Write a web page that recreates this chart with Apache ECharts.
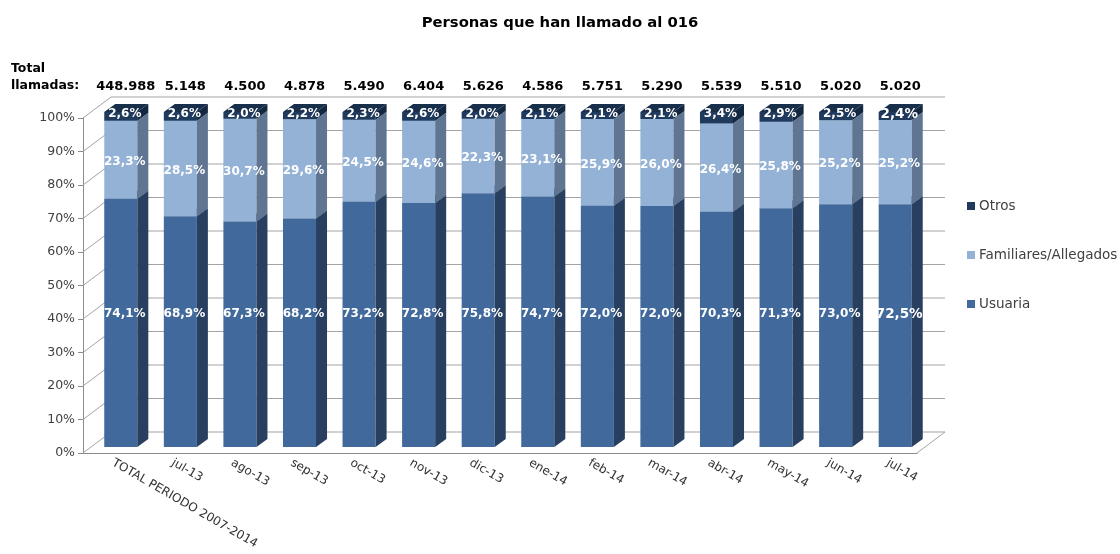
<!DOCTYPE html>
<html><head><meta charset="utf-8">
<script src="https://cdn.jsdelivr.net/npm/echarts@6/dist/echarts.min.js"></script>
<style>html,body{margin:0;padding:0;background:#fff}#c{width:1120px;height:554px}</style>
</head><body><div id="c"></div>
<script>
const categories = ["TOTAL PERIODO 2007-2014","jul-13","ago-13","sep-13","oct-13","nov-13","dic-13","ene-14","feb-14","mar-14","abr-14","may-14","jun-14","jul-14"];
const usuaria    = [74.1, 68.9, 67.3, 68.2, 73.2, 72.8, 75.8, 74.7, 72.0, 72.0, 70.3, 71.3, 73.0, 72.5];
const familiares = [23.3, 28.5, 30.7, 29.6, 24.5, 24.6, 22.3, 23.1, 25.9, 26.0, 26.4, 25.8, 25.2, 25.2];
const otros      = [2.6, 2.6, 2.0, 2.2, 2.3, 2.6, 2.0, 2.1, 2.1, 2.1, 3.4, 2.9, 2.5, 2.4];
const totals     = ["448.988","5.148","4.500","4.878","5.490","6.404","5.626","4.586","5.751","5.290","5.539","5.510","5.020","5.020"];
const yTicks     = [0,10,20,30,40,50,60,70,80,90,100];
const seriesNames = ["Usuaria","Familiares/Allegados","Otros"];

const FONT = "'DejaVu Sans', sans-serif";
const WALL = [28, -21];   // depth of the 3D box
const BARF = [8, -6];     // front face offset of bars
const BARD = [11, -8];    // bar depth
const LINE = '#a3a3a3';

function fmt(v){ return v.toFixed(1).replace('.', ',') + '%'; }

function buildStack(){
  const out = [[],[],[]];
  const arrs = [usuaria, familiares, otros];
  for (let i = 0; i < categories.length; i++){
    const sum = usuaria[i] + familiares[i] + otros[i];
    let acc = 0;
    for (let s = 0; s < 3; s++){
      const lo = acc / sum * 100;
      acc += arrs[s][i];
      const hi = acc / sum * 100;
      out[s].push([i, lo, hi, arrs[s][i]]);
    }
  }
  return out;
}
const stacks = buildStack();

const palette = [
  {front:'#41699c', side:'#283f60', top:'#31537d'},
  {front:'#94b1d6', side:'#5f7592', top:'#a9c2e0'},
  {front:'#1f3a5c', side:'#142740', top:'#182f4b'}
];

function barRender(s){
  return function(params, api){
    const i = api.value(0), lo = api.value(1), hi = api.value(2), raw = api.value(3);
    const bw = api.size([1, 0])[0] * 0.555;
    const p0 = api.coord([i, lo]);
    const p1 = api.coord([i, hi]);
    const x0 = p0[0] - bw/2 + BARF[0];
    const x1 = x0 + bw;
    const yb = p0[1] + BARF[1];
    const yt = p1[1] + BARF[1];
    const c = palette[s];
    const children = [
      {type:'rect', shape:{x:x0, y:yt, width:bw, height:yb-yt}, style:{fill:c.front}},
      {type:'polygon', shape:{points:[[x1,yb],[x1+BARD[0],yb+BARD[1]],[x1+BARD[0],yt+BARD[1]],[x1,yt]]}, style:{fill:c.side}},
      {type:'polygon', shape:{points:[[x0,yt],[x1,yt],[x1+BARD[0],yt+BARD[1]],[x0+BARD[0],yt+BARD[1]]]}, style:{fill:c.top}}
    ];
    let ly;
    if (s === 0) ly = api.coord([i, 40])[1] + BARF[1] + 1;
    else if (s === 1) ly = (yt + yb) / 2 + 2;
    else ly = yt + 2;
    const big = (i === categories.length - 1 && s !== 1);
    children.push({type:'text', x:(x0 + x1)/2 + 4, y:ly, z2:10,
      style:{text:fmt(raw), fill:'#ffffff', fontFamily:FONT, fontWeight:'bold', fontSize: big ? 13.5 : 12, align:'center', verticalAlign:'middle'}});
    return {type:'group', children};
  };
}

function frameRender(params, api){
  const v = api.value(0);
  const bwFull = api.size([1, 0])[0];
  const pl = api.coord([0, v]);
  const pr = api.coord([categories.length - 1, v]);
  const xl = pl[0] - bwFull/2, xr = pr[0] + bwFull/2, y = pl[1];
  const children = [
    {type:'line', shape:{x1:xl, y1:y, x2:xl+WALL[0], y2:y+WALL[1]}, style:{stroke:LINE, lineWidth:1}},
    {type:'line', shape:{x1:xl+WALL[0], y1:y+WALL[1], x2:xr+WALL[0], y2:y+WALL[1]}, style:{stroke:LINE, lineWidth:1}}
  ];
  if (v === 0){
    children.push({type:'line', shape:{x1:xr, y1:y, x2:xr+WALL[0], y2:y+WALL[1]}, style:{stroke:LINE, lineWidth:1}});
  }
  return {type:'group', children};
}

function totalsRender(params, api){
  const i = api.value(0);
  const p = api.coord([i, 100]);
  return {type:'text', x:p[0] + BARF[0] + 5, y:p[1] - 31,
    style:{text:totals[i], fill:'#000', fontFamily:FONT, fontWeight:'bold', fontSize:13, align:'center', verticalAlign:'middle'}};
}

const chart = echarts.init(document.getElementById('c'), null, {renderer:'canvas'});
chart.setOption({
  animation:false,
  backgroundColor:'#ffffff',
  title:[
    {text:'Personas que han llamado al 016', left:'center', top:11,
     textStyle:{fontFamily:FONT, fontSize:14.8, fontWeight:'bold', color:'#000'}},
    {text:'Total\nllamadas:', left:6, top:55,
     textStyle:{fontFamily:FONT, fontSize:12.5, fontWeight:'bold', color:'#000', lineHeight:17}}
  ],
  legend:{
    orient:'vertical', left:962, top:194, itemGap:35, itemWidth:8, itemHeight:8, icon:'rect',
    data:['Otros','Familiares/Allegados','Usuaria'],
    textStyle:{fontFamily:FONT, fontSize:13.5, color:'#404040', padding:[0,0,0,-1]}
  },
  grid:{left:83, right:203, top:118, bottom:101, outerBoundsMode:'none'},
  xAxis:{
    type:'category', data:categories, boundaryGap:true,
    axisLine:{lineStyle:{color:'#8c8c8c'}},
    axisTick:{length:5, lineStyle:{color:'#8c8c8c'}},
    axisLabel:{rotate:-30, margin:9, interval:0, fontFamily:FONT, fontSize:12, color:'#333'}
  },
  yAxis:{
    type:'value', min:0, max:100, interval:10,
    axisLine:{show:true, lineStyle:{color:'#8c8c8c'}},
    axisTick:{show:true, length:5, lineStyle:{color:'#8c8c8c'}},
    splitLine:{show:false},
    axisLabel:{formatter:'{value}%', margin:8, fontFamily:FONT, fontSize:12.5, color:'#404040'}
  },
  series:[
    {type:'custom', name:'frame', renderItem:frameRender, data:yTicks.map(v => [v]), encode:{y:0}, silent:true, z:1},
    {type:'custom', name:seriesNames[0], renderItem:barRender(0), data:stacks[0], encode:{x:0, y:[1,2]}, itemStyle:{color:palette[0].front}, z:2},
    {type:'custom', name:seriesNames[1], renderItem:barRender(1), data:stacks[1], encode:{x:0, y:[1,2]}, itemStyle:{color:palette[1].front}, z:3},
    {type:'custom', name:seriesNames[2], renderItem:barRender(2), data:stacks[2], encode:{x:0, y:[1,2]}, itemStyle:{color:palette[2].front}, z:4},
    {type:'custom', name:'totals', renderItem:totalsRender, data:categories.map((c, i) => [i]), encode:{x:0}, silent:true, z:5}
  ]
});
</script>
</body></html>
